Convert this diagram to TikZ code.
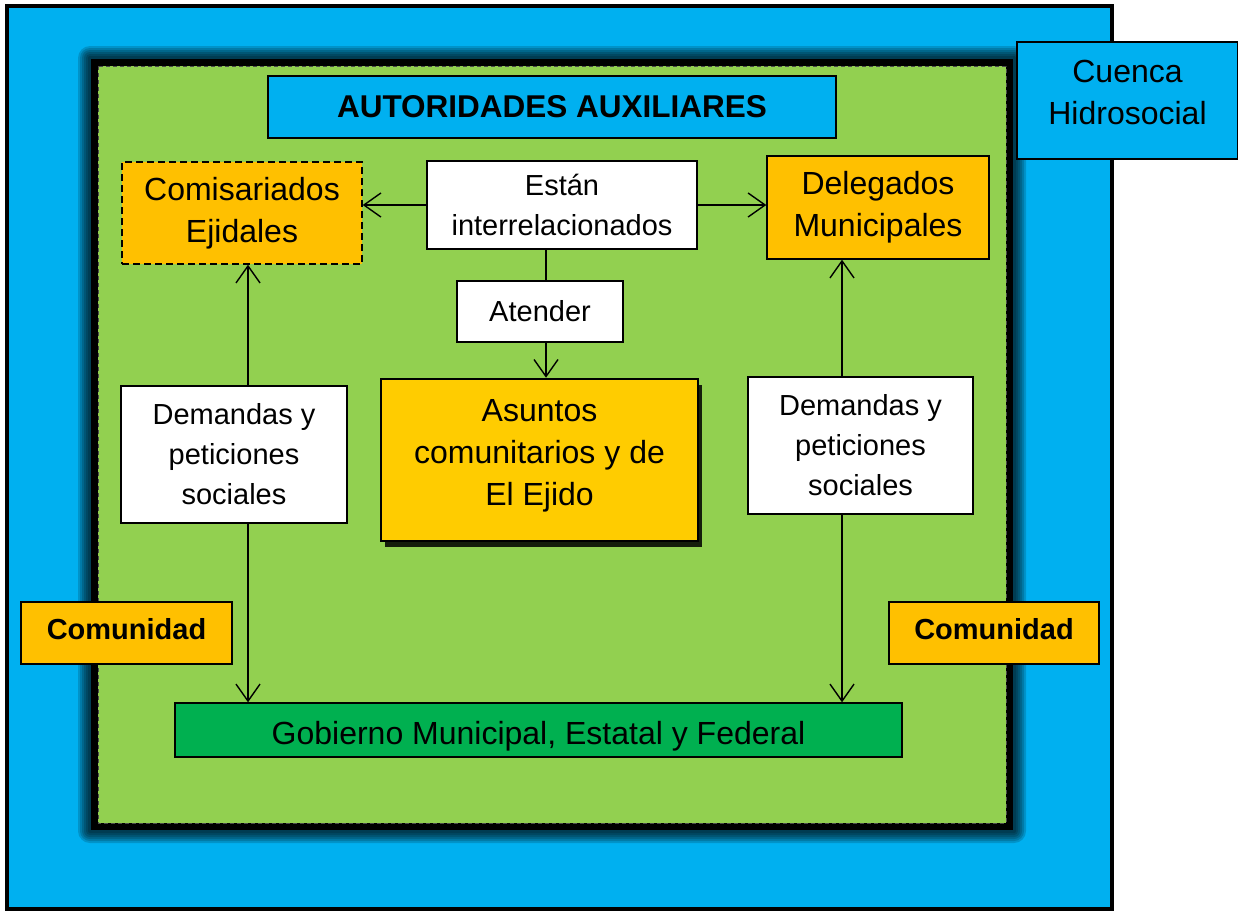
\documentclass[tikz,border=0pt]{standalone}
\usepackage{fontspec}
\setmainfont{Liberation Sans}
\usetikzlibrary{positioning}
\usetikzlibrary{shadows}
\usetikzlibrary{arrows.meta}

\definecolor{cuenca}{HTML}{00B0F0}
\definecolor{pasto}{HTML}{92D050}
\definecolor{naranja}{HTML}{FFC000}
\definecolor{amarillo}{HTML}{FFCC00}
\definecolor{gobierno}{HTML}{00B050}

\begin{document}
\begin{tikzpicture}[x=1pt,y=-1pt,
  base box/.style={draw,line width=1.4pt,align=center,inner sep=0pt,
   font=\fontsize{29}{40}\selectfont},
  white box/.style={base box,fill=white},
  orange box/.style={base box,fill=naranja,font=\fontsize{32}{42}\selectfont},
  comunidad box/.style={base box,fill=naranja,text depth=8pt,
   font=\fontsize{29}{40}\selectfont\bfseries},
  link/.style={line width=1.4pt,-{Straight Barb[length=17pt,width=24pt]}}]

 \useasboundingbox (0,0) rectangle (1238,914);

 % cuenca
 \draw[fill=cuenca,line width=4pt] (7,6) rectangle (1112,909);

 % black halo round the green area
 \foreach \g in {12,10,...,2}
  \fill[black,opacity=0.16,rounded corners=\g pt] (90-\g,58-\g) rectangle (1014+\g,831+\g);
 \fill[black] (91,59) rectangle (1013,830);
 \draw[fill=pasto,draw=black!70,line width=1pt,dash pattern=on 4pt off 3pt] (98,66) rectangle (1006,823);

 \node[base box,fill=cuenca,minimum width=568,minimum height=62,
  font=\fontsize{31.5}{40}\selectfont\bfseries] (aut) at (552,107){AUTORIDADES AUXILIARES};

 \node[orange box,dash pattern=on 7pt off 4pt,minimum width=240,minimum height=102] (comis) at (242,213){Comisariados\\Ejidales};
 \node[white box,minimum width=270,minimum height=88] (estan) at (562,205){Están\\interrelacionados};
 \node[orange box,minimum width=222,minimum height=103] (deleg) at (878,207.5){Delegados\\Municipales};

 \node[white box,minimum width=166,minimum height=61] (atender) at (540,311.5){Atender};
 \node[base box,fill=amarillo,line width=2.6pt,minimum width=317,minimum height=162,
  font=\fontsize{32}{42}\selectfont,text depth=16pt,
  drop shadow={shadow xshift=4pt,shadow yshift=-6pt,fill=black,opacity=0.85}] (asuntos) at (539.5,460){Asuntos\\comunitarios y de\\El Ejido};

 \node[white box,minimum width=226,minimum height=137] (demL) at (234,454.5){Demandas y\\peticiones\\sociales};
 \node[white box,minimum width=225,minimum height=137] (demR) at (860.5,445.5){Demandas y\\peticiones\\sociales};

 \node[comunidad box,minimum width=211,minimum height=62] (comL) at (126.5,633){Comunidad};
 \node[comunidad box,minimum width=210,minimum height=62] (comR) at (994,633){Comunidad};

 \node[base box,fill=gobierno,font=\fontsize{32}{40}\selectfont,text height=36pt,
  minimum width=727,minimum height=54] (gob) at (538.5,730){Gobierno Municipal, Estatal y Federal};

 \node[base box,fill=cuenca,font=\fontsize{32}{42}\selectfont,text depth=16pt,
  minimum width=221,minimum height=117] (hidro) at (1127.5,100.5){Cuenca\\Hidrosocial};

 \coordinate (midx) at (546,0);
 \coordinate (lx) at (248,0);
 \coordinate (rx) at (842,0);

 \draw[link] (estan.west) -- (estan.west -| comis.east);
 \draw[link] (estan.east) -- (estan.east -| deleg.west);
 \draw[line width=1.4pt] (estan.south -| midx) -- (atender.north -| midx);
 \draw[link] (atender.south -| midx) -- (asuntos.north -| midx);

 \draw[link] (demL.north -| lx) -- (comis.south -| lx);
 \draw[link] (demL.south -| lx) -- (gob.north -| lx);
 \draw[link] (demR.north -| rx) -- (deleg.south -| rx);
 \draw[link] (demR.south -| rx) -- (gob.north -| rx);
\end{tikzpicture}
\end{document}
